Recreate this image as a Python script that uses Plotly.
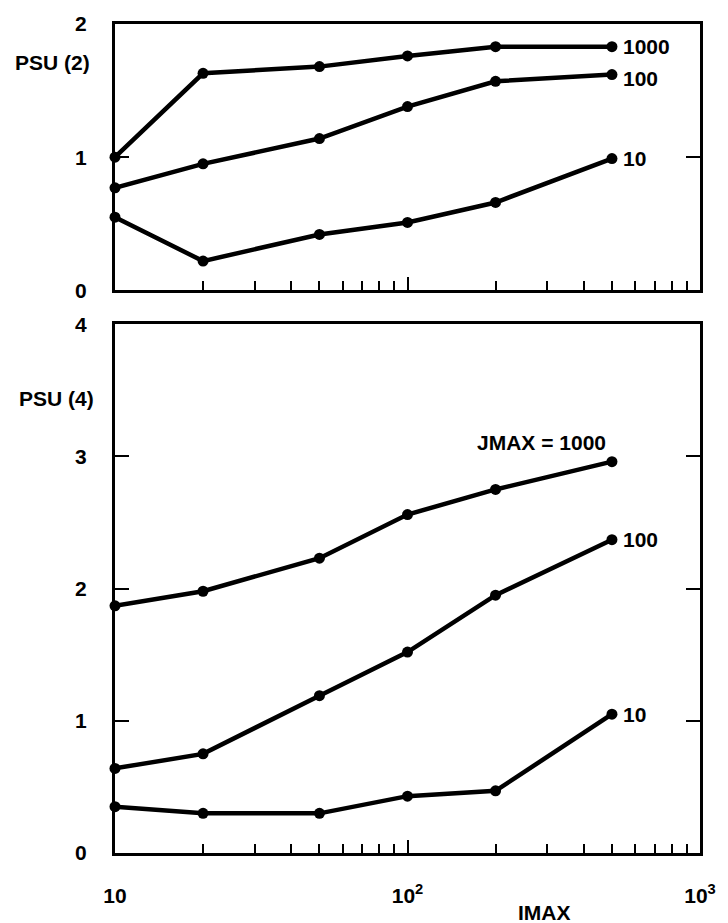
import numpy as np
import plotly.graph_objects as go
from plotly.subplots import make_subplots

imax = [10, 20, 50, 100, 200, 500]
jmax_labels = ["1000", "100", "10"]

psu2_j1000 = [1.00, 1.63, 1.68, 1.76, 1.83, 1.83]
psu2_j100 = [0.77, 0.95, 1.14, 1.38, 1.57, 1.62]
psu2_j10 = [0.55, 0.22, 0.42, 0.51, 0.66, 0.99]

psu4_j1000 = [1.87, 1.98, 2.23, 2.56, 2.75, 2.96]
psu4_j100 = [0.64, 0.75, 1.19, 1.52, 1.95, 2.37]
psu4_j10 = [0.35, 0.30, 0.30, 0.43, 0.47, 1.05]

x_tickvals = [10, 100, 1000]
x_ticktext = ["10", "10<sup>2</sup>", "10<sup>3</sup>"]
x_minor = [20, 30, 40, 50, 60, 70, 80, 90, 200, 300, 400, 500, 600, 700, 800, 900]

FONT = "Liberation Sans, Arial, sans-serif"
W, H = 728, 923
ML, MR, MT, MB = 115, 18, 19, 70
PW = W - ML - MR
plot_h = H - MT - MB
top_dom = [1 - (287 - 19) / plot_h, 1]
bot_dom = [0, (853 - 321) / plot_h]

fig = make_subplots(rows=2, cols=1, shared_xaxes=False)

line = dict(color="black", width=4.5)
marker = dict(color="black", size=11)

for ys in [psu2_j1000, psu2_j100, psu2_j10]:
    fig.add_trace(go.Scatter(x=imax, y=ys, mode="lines+markers", line=line,
                             marker=marker, showlegend=False, cliponaxis=False),
                  row=1, col=1)
for ys in [psu4_j1000, psu4_j100, psu4_j10]:
    fig.add_trace(go.Scatter(x=imax, y=ys, mode="lines+markers", line=line,
                             marker=marker, showlegend=False, cliponaxis=False),
                  row=2, col=1)

tfont = dict(family=FONT, size=21, color="black", weight="bold")

xcommon = dict(type="log", range=[1, 3], showline=True, linecolor="black",
               linewidth=3, mirror=True, showgrid=False, zeroline=False,
               ticks="inside", ticklen=13, tickwidth=2, tickcolor="black",
               tickvals=x_tickvals,
               minor=dict(tickmode="array", tickvals=x_minor, ticks="inside",
                          ticklen=9, tickwidth=2, tickcolor="black", showgrid=False))

fig.update_xaxes(**xcommon, showticklabels=False, row=1, col=1)
fig.update_xaxes(**xcommon, ticktext=x_ticktext, showticklabels=True,
                 tickfont=tfont, ticklabelstandoff=22, row=2, col=1)

ycommon = dict(showline=True, linecolor="black", linewidth=3, mirror="ticks",
               showgrid=False, zeroline=False, ticks="inside", ticklen=14,
               tickwidth=2, tickcolor="black", tickfont=tfont,
               ticklabelstandoff=21)
fig.update_yaxes(**ycommon, range=[0, 2], tickvals=[0, 1, 2], row=1, col=1)
fig.update_yaxes(**ycommon, range=[0, 4], tickvals=[0, 1, 2, 3, 4], row=2, col=1)

fig.layout.yaxis.domain = top_dom
fig.layout.yaxis2.domain = bot_dom

afont = dict(family=FONT, size=21, color="black", weight="bold")
ann = []
lx = np.log10(imax[-1])
for lab, ys, dy in zip(jmax_labels, [psu2_j1000, psu2_j100, psu2_j10], [0, -4, 0]):
    ann.append(dict(x=lx, y=ys[-1], xref="x", yref="y", text=lab, showarrow=False,
                    xanchor="left", yanchor="middle", xshift=9, yshift=dy, font=afont))
for lab, ys in zip(["JMAX = 1000", "100", "10"], [psu4_j1000, psu4_j100, psu4_j10]):
    if lab.startswith("JMAX"):
        ann.append(dict(x=lx, y=ys[-1], xref="x2", yref="y2", text=lab, showarrow=False,
                        xanchor="right", yanchor="bottom", xshift=-4, yshift=6, font=afont))
    else:
        ann.append(dict(x=lx, y=ys[-1], xref="x2", yref="y2", text=lab, showarrow=False,
                        xanchor="left", yanchor="middle", xshift=9, font=afont))

ann.append(dict(x=(51 - ML) / PW, y=1 - (58 - MT) / plot_h, xref="paper", yref="paper",
                text="PSU (2)", showarrow=False, xanchor="center", yanchor="middle",
                font=afont))
ann.append(dict(x=(55 - ML) / PW, y=1 - (396 - MT) / plot_h, xref="paper",
                yref="paper", text="PSU (4)", showarrow=False, xanchor="center",
                yanchor="middle", font=afont))
ann.append(dict(x=(552 - ML) / PW, y=-(913 - 853) / plot_h, xref="paper",
                yref="paper", text="IMAX", showarrow=False, xanchor="center",
                yanchor="middle", font=afont))

fig.update_layout(width=W, height=H, margin=dict(l=ML, r=MR, t=MT, b=MB),
                  paper_bgcolor="white", plot_bgcolor="white", annotations=ann,
                  font=dict(family=FONT, color="black"))

fig.write_html("out.html")
